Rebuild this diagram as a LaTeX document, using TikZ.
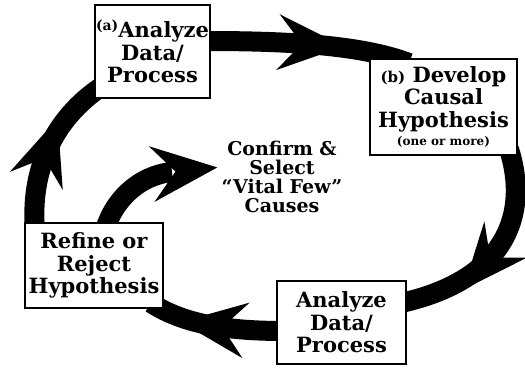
\documentclass[tikz,border=0pt]{standalone}
\usepackage{fontspec}
\setmainfont{DejaVu Serif}
\usetikzlibrary{calc,decorations.markings,backgrounds}

\newcommand\stagefont{\fontsize{21}{22.5}\selectfont\bfseries}
\newcommand\tagfont{\fontsize{14}{14}\selectfont\bfseries}

\tikzset{
  stage/.style={draw=black, line width=1.8pt, fill=white, inner sep=0pt,
                align=center, font=\stagefont},
  band/.style={draw=black, line width=20pt},
  % swept-back arrowhead placed along a band
  headat/.style={postaction={decorate},
    decoration={markings, mark=at position #1 with {
      \fill[black] (46pt,0pt) -- (-20pt,28pt) -- (4pt,0pt) -- (-20pt,-28pt) -- cycle;}}},
}

\begin{document}
\begin{tikzpicture}[x=1pt,y=-1pt]
\useasboundingbox (0,0) rectangle (525,368);

% process stages
\node[stage, minimum width=115pt, minimum height=93pt] (boxA) at (152.5,51.5)
  {\raisebox{7pt}{\tagfont(a)}Analyze\\Data/\\Process};
\node[stage, minimum width=147pt, minimum height=96pt] (boxB) at (443.5,107)
  {{\fontsize{15}{15}\selectfont(b)} Develop\\Causal\\Hypothesis\\[-4pt]{\fontsize{12}{13}\selectfont(one or more)}};
\node[stage, minimum width=138pt, minimum height=85pt] (refine) at (94,265.5)
  {Refine or\\Reject\\Hypothesis};
\node[stage, minimum width=129pt, minimum height=83pt] (boxC) at (341.5,322.5)
  {Analyze\\Data/\\Process};

% goal in the middle of the loop
\node[align=center, font=\fontsize{19}{19}\selectfont\bfseries] (goal) at (282,177)
  {Confirm \&\\Select\\“Vital Few”\\Causes};
\coordinate (aim) at (172,172);

% the loop of bands
\begin{scope}[on background layer]
  \draw[band, headat=92pt] ($(boxA.east)+(-5,-10.5)$)
    .. controls (280,41) and (360,44) .. ($(boxB.north west)+(40,5)$);
  \draw[band, headat=112pt] ($(boxB.south east)+(-9,-7)$)
    .. controls (530,215) and (505,280) .. ($(boxC.east)+(-6,-19.5)$);
  \draw[band, headat=58pt] ($(boxC.west)+(8,8.5)$)
    .. controls (230,331) and (185,325) .. ($(refine.south east)+(-13,-6)$);
  \draw[band, headat=70pt] ($(refine.north west)+(11,9)$)
    .. controls (30,175) and (50,120) .. ($(boxA.south west)+(10,-14)$);
  \draw[band, headat=0.995] ($(refine.north)+(10,12)$)
    .. controls (112,200) and (140,175) .. (aim);
\end{scope}
\end{tikzpicture}
\end{document}
